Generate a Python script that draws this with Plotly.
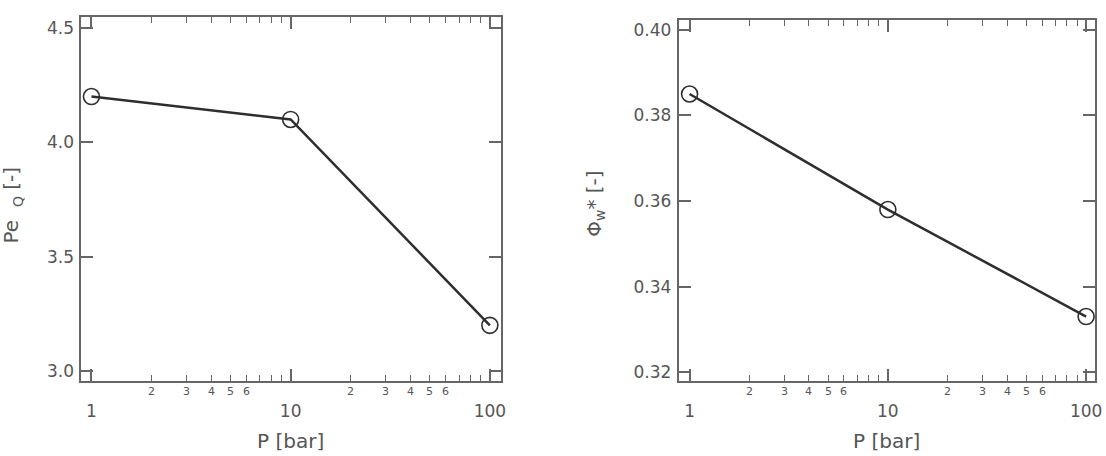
import math
import plotly.graph_objects as go

# ---- data ----
pressure = [1, 10, 100]
pe_q = [4.2, 4.1, 3.2]
phi_w = [0.385, 0.358, 0.333]

x_major = [1, 10, 100]
x_major_text = ["1", "10", "100"]
x_minor = [2, 3, 4, 5, 6, 7, 8, 9, 20, 30, 40, 50, 60, 70, 80, 90]
x_minor_labels = [2, 3, 4, 5, 6, 20, 30, 40, 50, 60]
x_minor_text = ["2", "3", "4", "5", "6", "2", "3", "4", "5", "6"]

y1_ticks = [3.0, 3.5, 4.0, 4.5]
y1_text = ["3.0", "3.5", "4.0", "4.5"]
y2_ticks = [0.32, 0.34, 0.36, 0.38, 0.40]
y2_text = ["0.32", "0.34", "0.36", "0.38", "0.40"]

W, H = 1106, 456
AX = "#666666"
TXT = "#555555"
LINE = "#2e2e2e"
FONT = "DejaVu Sans"

fig = go.Figure()

def px_dom_x(a, b):
    return [a / W, b / W]

def px_dom_y(top, bottom):
    return [1 - bottom / H, 1 - top / H]

for yv, xa, ya in [(pe_q, "x", "y"), (phi_w, "x2", "y2")]:
    fig.add_trace(go.Scatter(
        x=pressure, y=yv, xaxis=xa, yaxis=ya, mode="lines+markers",
        line=dict(color=LINE, width=2.5),
        marker=dict(symbol="circle-open", size=16, color=LINE, line=dict(width=1.6, color=LINE)),
        showlegend=False, cliponaxis=False,
    ))

common_x = dict(
    type="log", tickvals=x_major, ticktext=x_major_text, ticks="inside", ticklen=12,
    tickwidth=1.6, tickcolor=AX, showline=True, linecolor=AX, linewidth=2, mirror="ticks",
    showgrid=False, zeroline=False, tickfont=dict(family=FONT, size=17, color=TXT),
    ticklabelstandoff=13,
    minor=dict(tickvals=x_minor, ticks="inside", ticklen=6, tickwidth=1.4, tickcolor=AX, showgrid=False),
)
common_y = dict(
    ticks="inside", ticklen=12, tickwidth=1.6, tickcolor=AX, showline=True, linecolor=AX,
    linewidth=2, mirror="ticks", showgrid=False, zeroline=False,
    tickfont=dict(family=FONT, size=17, color=TXT), ticklabelstandoff=2,
)

r1 = [-0.05, 2.055]
r2 = [-0.055, 2.045]
fig.update_layout(
    width=W, height=H, margin=dict(l=0, r=0, t=0, b=0),
    paper_bgcolor="white", plot_bgcolor="white",
    xaxis=dict(common_x, domain=px_dom_x(82, 504), anchor="y", range=r1),
    yaxis=dict(common_y, domain=px_dom_y(17, 382), anchor="x", range=[2.956, 4.548],
               tickvals=y1_ticks, ticktext=y1_text),
    xaxis2=dict(common_x, domain=px_dom_x(683, 1102), anchor="y2", range=r2),
    yaxis2=dict(common_y, domain=px_dom_y(20, 382), anchor="x2", range=[0.3179, 0.4023],
                tickvals=y2_ticks, ticktext=y2_text),
)

ann = []
for xr, yr in [("x", "y domain"), ("x2", "y2 domain")]:
    for v, t in zip(x_minor_labels, x_minor_text):
        ann.append(dict(x=math.log10(v), y=0, xref=xr, yref=yr, text=t, showarrow=False,
                        xanchor="center", yanchor="top", yshift=-2,
                        font=dict(family=FONT, size=11, color=TXT)))

ttl = dict(family=FONT, size=20, color=TXT)
ann.append(dict(x=292 / W, y=1 - 442 / H, xref="paper", yref="paper", text="P [bar]",
                xanchor="center", yanchor="middle", showarrow=False, font=ttl))
ann.append(dict(x=892 / W, y=1 - 442 / H, xref="paper", yref="paper", text="P [bar]",
                xanchor="center", yanchor="middle", showarrow=False, font=ttl))
ann.append(dict(x=12 / W, y=1 - 205 / H, xref="paper", yref="paper",
                text="Pe  <sub>Q</sub> [-]", textangle=-90, showarrow=False,
                xanchor="center", yanchor="middle", font=ttl))
ann.append(dict(x=598 / W, y=1 - 204 / H, xref="paper", yref="paper",
                text="Φ<sub>w</sub>* [-]", textangle=-90, showarrow=False,
                xanchor="center", yanchor="middle", font=ttl))
fig.update_layout(annotations=ann)

fig.write_html("out.html")
